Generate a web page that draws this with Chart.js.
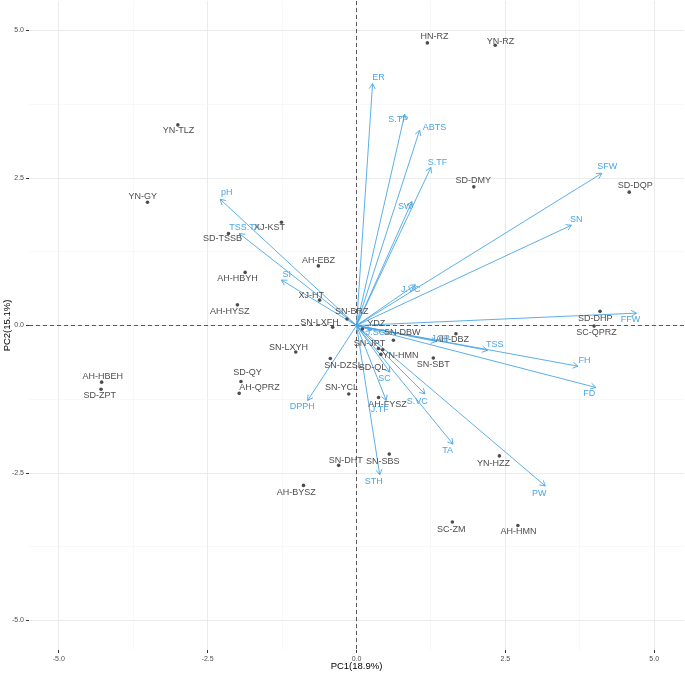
<!DOCTYPE html>
<html><head><meta charset="utf-8">
<script src="https://cdn.jsdelivr.net/npm/chart.js@4/dist/chart.umd.min.js"></script>
<style>html,body{margin:0;padding:0;background:#fff;overflow:hidden}#wrap{width:685px;height:673px;position:relative;overflow:hidden}#c{position:absolute;left:0;top:-3px}</style>
</head><body><div id="wrap"><canvas id="c" width="688" height="677"></canvas></div>
<script>
// ---- sample (individual) scores ----
const sampleNames = ["HN-RZ","YN-RZ","YN-TLZ","YN-GY","SD-DMY","SD-DQP","XJ-KST","SD-TSSB","AH-EBZ","AH-HBYH","AH-HYSZ","XJ-HT","SN-BRZ","SN-LXFH","YDZ","SN-DBW","AH-DBZ","SN-JPT","YN-HMN","SD-QL","SN-SBT","SN-LXYH","SN-DZSL","SD-QY","AH-QPRZ","AH-HBEH","SD-ZPT","SN-YCL","AH-FYSZ","SN-DHT","SN-SBS","YN-HZZ","AH-BYSZ","SC-ZM","AH-HMN","SD-DHP","SC-QPRZ"];
const samplePC1 = [1.19,2.33,-3.00,-3.51,1.97,4.58,-1.26,-2.15,-0.64,-1.87,-2.00,-0.62,-0.16,-0.40,0.10,0.62,1.67,0.37,0.41,0.44,1.29,-1.02,-0.44,-1.94,-1.97,-4.28,-4.29,-0.13,0.37,-0.30,0.55,2.40,-0.89,1.61,2.71,4.09,3.99];
const samplePC2 = [4.79,4.75,3.40,2.09,2.35,2.26,1.75,1.56,1.01,0.90,0.35,0.43,0.11,-0.03,-0.06,-0.25,-0.14,-0.39,-0.49,-0.41,-0.55,-0.45,-0.56,-0.95,-1.15,-0.96,-1.08,-1.16,-1.22,-2.37,-2.18,-2.21,-2.71,-3.33,-3.39,0.24,-0.01];
const sampleLabelX = [1.31,2.42,-2.99,-3.59,1.96,4.68,-1.46,-2.25,-0.64,-2.00,-2.13,-0.76,-0.08,-0.62,0.33,0.77,1.61,0.22,0.74,0.27,1.29,-1.14,-0.22,-1.83,-1.63,-4.26,-4.31,-0.25,0.52,-0.18,0.44,2.30,-1.01,1.59,2.72,4.01,4.03];
const sampleLabelY = [4.89,4.82,3.30,2.18,2.45,2.37,1.66,1.47,1.10,0.80,0.24,0.51,0.24,0.05,0.03,-0.12,-0.24,-0.30,-0.51,-0.71,-0.66,-0.37,-0.68,-0.80,-1.05,-0.86,-1.18,-1.05,-1.34,-2.28,-2.30,-2.34,-2.83,-3.45,-3.50,0.12,-0.12];

// ---- variable loadings (arrows) ----
const varNames = ["ER","S.TP","ABTS","S.TF","SW","SFW","SN","J.VC","FFW","TSS","J.TP","FH","FD","J.SC","SC","S.VC","J.TF","TA","PW","STH","DPPH","pH","TSS.TA","SI"];
const varPC1 = [0.27,0.81,1.06,1.25,0.93,4.12,3.61,0.99,4.70,2.20,1.34,3.72,4.02,0.25,0.56,1.15,0.50,1.62,3.17,0.39,-0.82,-2.29,-1.97,-1.26];
const varPC2 = [4.10,3.58,3.31,2.68,2.10,2.58,1.70,0.69,0.21,-0.42,-0.27,-0.69,-1.05,-0.08,-0.79,-1.16,-1.27,-2.01,-2.72,-2.53,-1.27,2.14,1.56,0.77];
const varLabelX = [0.37,0.70,1.31,1.36,0.82,4.21,3.69,0.91,4.60,2.32,1.41,3.83,3.91,0.32,0.47,1.02,0.39,1.53,3.07,0.29,-0.91,-2.18,-1.88,-1.17];
const varLabelY = [4.21,3.49,3.35,2.77,2.01,2.69,1.79,0.61,0.10,-0.32,-0.22,-0.59,-1.15,-0.12,-0.90,-1.29,-1.42,-2.12,-2.84,-2.64,-1.37,2.25,1.66,0.86];

// ---- axes ----
const gridValues = [-5,-3.75,-2.5,-1.25,0,1.25,2.5,3.75,5];
const axisMin = -5.5, axisMax = 5.5;
const xTitle = "PC1(18.9%)";
const yTitle = "PC2(15.1%)";

const BLUE = "#4aa6e4";
const GRAY = "#4d4d4d";
const FONT = "'Liberation Sans', Arial, sans-serif";
const isMajor = v => Math.abs(v / 2.5 - Math.round(v / 2.5)) < 1e-6;

const datasets = [{
  type: 'scatter',
  data: samplePC1.map((x, i) => ({x: x, y: samplePC2[i]})),
  pointRadius: 1.8,
  pointBackgroundColor: GRAY,
  pointBorderWidth: 0,
  order: 0
}];
varNames.forEach((n, i) => {
  datasets.push({
    type: 'line',
    data: [{x: 0, y: 0}, {x: varPC1[i], y: varPC2[i]}],
    borderColor: BLUE,
    borderWidth: 0.9,
    pointRadius: 0,
    showLine: true,
    fill: false,
    order: 1
  });
});

const overlay = {
  id: 'overlay',
  beforeDatasetsDraw(chart) {
    const {ctx, chartArea: a, scales: {x, y}} = chart;
    ctx.save();
    ctx.strokeStyle = '#333';
    ctx.lineWidth = 0.8;
    ctx.setLineDash([4, 3]);
    const x0 = x.getPixelForValue(0), y0 = y.getPixelForValue(0);
    ctx.beginPath(); ctx.moveTo(x0, a.top); ctx.lineTo(x0, a.bottom); ctx.stroke();
    ctx.beginPath(); ctx.moveTo(a.left, y0); ctx.lineTo(a.right, y0); ctx.stroke();
    ctx.restore();
  },
  afterDatasetsDraw(chart) {
    const {ctx, scales: {x, y}} = chart;
    ctx.save();
    const x0 = x.getPixelForValue(0), y0 = y.getPixelForValue(0);
    ctx.strokeStyle = BLUE; ctx.lineWidth = 0.9;
    varNames.forEach((n, i) => {
      const tx = x.getPixelForValue(varPC1[i]), ty = y.getPixelForValue(varPC2[i]);
      const ang = Math.atan2(ty - y0, tx - x0);
      const L = 6, w = Math.PI / 6;
      ctx.beginPath();
      ctx.moveTo(tx - L * Math.cos(ang - w), ty - L * Math.sin(ang - w));
      ctx.lineTo(tx, ty);
      ctx.lineTo(tx - L * Math.cos(ang + w), ty - L * Math.sin(ang + w));
      ctx.stroke();
    });
    ctx.textAlign = 'center';
    ctx.textBaseline = 'middle';
    ctx.font = '9px ' + FONT;
    ctx.fillStyle = GRAY;
    sampleNames.forEach((n, i) => {
      ctx.fillText(n, x.getPixelForValue(sampleLabelX[i]), y.getPixelForValue(sampleLabelY[i]));
    });
    ctx.fillStyle = BLUE;
    varNames.forEach((n, i) => {
      ctx.fillText(n, x.getPixelForValue(varLabelX[i]), y.getPixelForValue(varLabelY[i]));
    });
    ctx.restore();
  }
};

const axisCommon = {
  type: 'linear',
  min: axisMin,
  max: axisMax,
  afterBuildTicks: s => { s.ticks = gridValues.map(v => ({value: v})); },
  ticks: {
    autoSkip: false,
    maxRotation: 0,
    font: {size: 7, family: FONT},
    color: GRAY,
    padding: 2,
    callback: v => isMajor(v) ? v.toFixed(1) : ''
  },
  grid: {
    color: c => (c.tick && isMajor(c.tick.value)) ? '#ebebeb' : '#f3f3f3',
    lineWidth: c => (c.tick && isMajor(c.tick.value)) ? 1 : 0.6,
    tickColor: c => (c.tick && isMajor(c.tick.value)) ? '#333' : 'rgba(0,0,0,0)',
    tickLength: 3,
    drawTicks: true
  },
  border: {display: false}
};

function fixPad(s) {
  s.paddingTop = 0; s.paddingBottom = 0; s.paddingLeft = 0; s.paddingRight = 0;
}

new Chart(document.getElementById('c'), {
  data: {datasets: datasets},
  options: {
    responsive: false,
    animation: false,
    devicePixelRatio: 1,
    layout: {padding: {top: 0, right: 1, left: 0, bottom: 0}},
    plugins: {legend: {display: false}, tooltip: {enabled: false}},
    scales: {
      x: Object.assign({}, axisCommon, {
        position: 'bottom',
        afterFit: s => { s.height = 24; fixPad(s); },
        title: {display: true, text: xTitle, font: {size: 9.5, family: FONT}, color: '#000', padding: {top: 0, bottom: 2}}
      }),
      y: Object.assign({}, axisCommon, {
        position: 'left',
        afterFit: s => { s.width = 29; fixPad(s); },
        title: {display: true, text: yTitle, font: {size: 9.5, family: FONT}, color: '#000', padding: {top: 2, bottom: 0}}
      })
    }
  },
  plugins: [overlay]
});
</script></body></html>
